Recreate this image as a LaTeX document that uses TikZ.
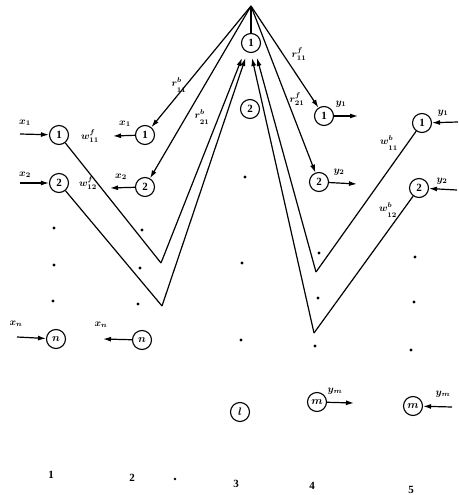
\documentclass[tikz,border=0pt]{standalone}
\usepackage{fontspec}
\setmainfont{Liberation Serif}
\usetikzlibrary{arrows.meta}
\newcommand\lowsub[1]{_{\lower2.5pt\hbox{$\scriptstyle #1$}}}
\newcommand\highsup[1]{^{\raise1pt\hbox{$\scriptstyle #1$}}}
\begin{document}
\begin{tikzpicture}[x=1pt,y=-1pt,
  neuron/.style={circle,draw,line width=1.1pt,minimum size=19pt,inner sep=0pt,font=\fontsize{11}{11}\selectfont\bfseries\boldmath},
  wire/.style={line width=1.2pt},
  arr/.style={line width=1.2pt,-{Latex[length=8pt,width=5pt]}},
  lab/.style={font=\fontsize{10}{10}\selectfont\boldmath,inner sep=0pt},
  dotm/.style={circle,fill,inner sep=0pt,minimum size=3.2pt},
  collab/.style={font=\fontsize{11}{11}\selectfont\bfseries,inner sep=0pt}]
\useasboundingbox (0,0) rectangle (458,495);
% nodes
\node[neuron] (c1n1) at (59,135) {1};
\node[neuron] (c1n2) at (59,183) {2};
\node[neuron] (c1nn) at (56,339) {$n$};
\node[neuron] (c2n1) at (145,135) {1};
\node[neuron] (c2n2) at (145,187) {2};
\node[neuron] (c2nn) at (142,340) {$n$};
\node[neuron] (c3n1) at (251,43) {1};
\node[neuron] (c3n2) at (250,109) {2};
\node[neuron] (c3nl) at (240,412) {$l$};
\node[neuron] (c4n1) at (324,116) {1};
\node[neuron] (c4n2) at (319,182) {2};
\node[neuron] (c4nm) at (317,402) {$m$};
\node[neuron] (c5n1) at (422,123) {1};
\node[neuron] (c5n2) at (419,188) {2};
\node[neuron] (c5nm) at (413,406) {$m$};
% dots
\foreach \p/\n in {{(54,228)}/a1,{(54,265)}/a2,{(53,301)}/a3,
  {(142,230)}/b1,{(140,268)}/b2,{(138,304)}/b3,
  {(245,177)}/c1,{(242,263)}/c2,{(241,340)}/c3,
  {(319,253)}/d1,{(318,298)}/d2,{(315,346)}/d3,
  {(415,257)}/e1,{(414,302)}/e2,{(411,350)}/e3}
  \node[dotm] (dot\n) at \p {};
% coordinates
\coordinate (apex) at (251,6);
\coordinate (vl1) at (161,263);
\coordinate (vl2) at (162,306);
\coordinate (vr1) at (316,272);
\coordinate (vr2) at (314,333);
\coordinate (t1) at (242,58);
\coordinate (t2) at (245.5,58);
\coordinate (t3) at (252,58);
\coordinate (t4) at (257,58);
\coordinate (x1s) at (20,134);
\coordinate (x2s) at (20,183);
\coordinate (xns) at (17,337);
\coordinate (x1e) at (113,136);
\coordinate (x2e) at (110,188);
\coordinate (xne) at (103,339);
\coordinate (y1e) at (358,116);
\coordinate (y2e) at (357,184);
\coordinate (yme) at (354,403);
\coordinate (y1s) at (458,122);
\coordinate (y2s) at (457,190);
\coordinate (yms) at (452,407);
% apex lines
\draw[wire] (apex) -- (c3n1);
\draw[arr] (apex) -- (c2n1);
\draw[arr] (apex) -- (c2n2);
\draw[arr] (apex) -- (c4n1);
\draw[arr] (apex) -- (c4n2);
% V lines
\draw[wire] (c1n1) -- (vl1);
\draw[arr] (vl1) -- (t1);
\draw[wire] (c1n2) -- (vl2);
\draw[arr] (vl2) -- (t2);
\draw[wire] (c5n1) -- (vr1);
\draw[arr] (vr1) -- (t4);
\draw[wire] (c5n2) -- (vr2);
\draw[arr] (vr2) -- (t3);
% input / output arrows
\draw[arr] (x1s) -- (c1n1);
\draw[arr] (x2s) -- (c1n2);
\draw[arr] (xns) -- (c1nn);
\draw[arr] (c2n1) -- (x1e);
\draw[arr] (c2n2) -- (x2e);
\draw[arr] (c2nn) -- (xne);
\draw[arr] (c4n1) -- (y1e);
\draw[arr] (c4n2) -- (y2e);
\draw[arr] (c4nm) -- (yme);
\draw[arr] (y1s) -- (c5n1);
\draw[arr] (y2s) -- (c5n2);
\draw[arr] (yms) -- (c5nm);
% labels
\node[lab] (lx1a) at (25,123) {$x_1$};
\node[lab] (lx2a) at (25,175) {$x_2$};
\node[lab] (lxna) at (16,324) {$x_n$};
\node[lab] (lx1b) at (125,124) {$x_1$};
\node[lab] (lx2b) at (121,177) {$x_2$};
\node[lab] (lxnb) at (101,325) {$x_n$};
\node[lab] (lw11f) at (90,136) {$w^{f}_{11}$};
\node[lab] (lw12f) at (88,183) {$w^{f}_{12}$};
\node[lab] (lr11b) at (179,85) {$r\highsup{b}\lowsub{11}$};
\node[lab] (lr21b) at (202,117) {$r\highsup{b}\lowsub{21}$};
\node[lab] (lr11f) at (299,54) {$r^{f}_{11}$};
\node[lab] (lr21f) at (297,99) {$r^{f}_{21}$};
\node[lab] (ly1a) at (341,104) {$y_1$};
\node[lab] (ly2a) at (339,172) {$y_2$};
\node[lab] (lyma) at (335,391) {$y_m$};
\node[lab] (ly1b) at (443,113) {$y_1$};
\node[lab] (ly2b) at (442,181) {$y_2$};
\node[lab] (lymb) at (443,394) {$y_m$};
\node[lab] (lw11b) at (389,143) {$w\highsup{b}\lowsub{11}$};
\node[lab] (lw12b) at (388,210) {$w\highsup{b}\lowsub{12}$};
% column labels
\node[collab] (col1) at (51,475) {1};
\node[collab] (col2) at (132,478) {2};
\node[dotm,minimum size=2.6pt] (coldot) at (175,479) {};
\node[collab] (col3) at (236,484) {3};
\node[collab] (col4) at (312,486) {4};
\node[collab] (col5) at (411,490) {5};
\end{tikzpicture}
\end{document}
